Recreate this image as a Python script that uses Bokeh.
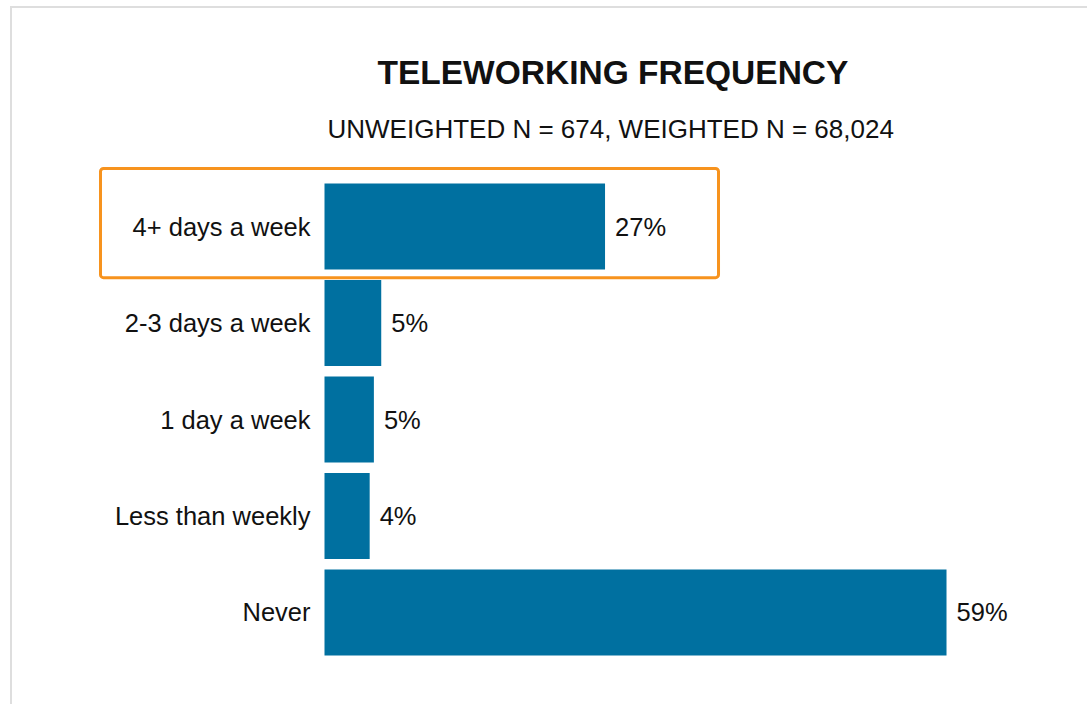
from bokeh.plotting import figure
from bokeh.models import ColumnDataSource, Title, BoxAnnotation, FactorRange, Range1d
from bokeh.embed import file_html
from bokeh.resources import INLINE
from bokeh.core.properties import value

categories = ["4+ days a week", "2-3 days a week", "1 day a week", "Less than weekly", "Never"]
shares = [26.7, 5.4, 4.7, 4.3, 59.2]
share_labels = ["27%", "5%", "5%", "4%", "59%"]
title_text = "TELEWORKING FREQUENCY"
subtitle_text = "UNWEIGHTED N = 674, WEIGHTED N = 68,024"
highlight = "4+ days a week"

FONT = "Liberation Sans"
BAR = "#0070A0"
ORANGE = "#F7931E"
TXT = "#111111"

W, H = 1077, 698          # canvas size (page minus the grey frame offset)
PPU = 10.507              # pixels per percentage point
ZERO_X = 312              # canvas x of the bar baseline
x_start = -ZERO_X / PPU
x_end = x_start + W / PPU

factors = list(reversed(categories))
src = ColumnDataSource(dict(cat=categories, val=shares, lab=share_labels,
                            zero=[0] * len(categories)))

p = figure(width=W, height=H, output_backend="svg", toolbar_location=None,
           y_range=FactorRange(factors=factors, range_padding=0.0736, range_padding_units="percent"),
           x_range=Range1d(x_start, x_end),
           min_border_left=0, min_border_right=0, min_border_top=152, min_border_bottom=28)
p.styles = {"margin-left": "10px", "margin-top": "6px",
            "border-left": "2px solid #dedede", "border-top": "2px solid #dedede"}
p.background_fill_color = "white"
p.border_fill_color = "white"
p.outline_line_color = None
p.grid.visible = False
p.xaxis.visible = False
p.yaxis.visible = False

p.hbar(y="cat", right="val", left=0, height=0.89, source=src, fill_color=BAR, line_color=None)
p.text(x="val", y="cat", text="lab", source=src, x_offset=10, text_baseline="middle",
       text_align="left", text_font=value(FONT), text_font_size="25.5px", text_color=TXT)
p.text(x="zero", y="cat", text="cat", source=src, x_offset=-14, text_baseline="middle",
       text_align="right", text_font=value(FONT), text_font_size="25.5px", text_color=TXT)

hi = len(factors) - 1 - categories.index(highlight) + 0.5
p.add_layout(BoxAnnotation(left=-21.32, right=37.5, top=hi + 0.601, bottom=hi - 0.53,
                           fill_color=None, fill_alpha=0, line_color=ORANGE, line_alpha=1,
                           line_width=3, border_radius=3))

p.add_layout(Title(text=subtitle_text, align="left", offset=315, text_font=FONT,
                   text_font_size="26px", text_font_style="normal", text_color=TXT, standoff=33), "above")
p.add_layout(Title(text=title_text, align="left", offset=365, text_font=FONT,
                   text_font_size="33.5px", text_font_style="bold", text_color=TXT, standoff=10), "above")

open("out.html", "w").write(file_html(p, INLINE))
